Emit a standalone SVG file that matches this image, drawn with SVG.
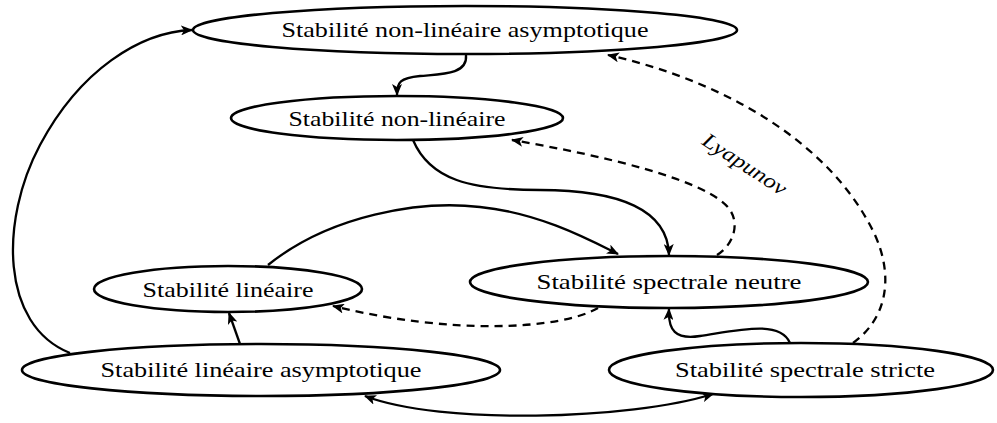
<svg xmlns="http://www.w3.org/2000/svg" width="997" height="423" viewBox="0 0 997 423">
<style>
.node ellipse{fill:#fff;stroke:#000;stroke-width:2.6}
.node text{font-family:'Liberation Serif','Times New Roman',serif;font-size:21px;text-anchor:middle;fill:#000}
.e{fill:none;stroke:#000;stroke-width:2.3}
.d{stroke-dasharray:8 6}
.lbl{font-family:'Liberation Serif','Times New Roman',serif;font-style:italic;font-size:21px;fill:#000;text-anchor:middle}
</style>
<defs>
<marker id="ah" markerWidth="12" markerHeight="10" refX="11" refY="5" orient="auto" markerUnits="userSpaceOnUse">
<path d="M0,0 L12,5 L0,10 L3,5 Z" fill="#000"/>
</marker>
<marker id="as" markerWidth="12" markerHeight="10" refX="1" refY="5" orient="auto" markerUnits="userSpaceOnUse">
<path d="M12,0 L0,5 L12,10 L9,5 Z" fill="#000"/>
</marker>
</defs>
<g id="connectors">
<path class="e" d="M70 353 C0 325, 0 220, 40 145 C80 70, 140 32, 192 30" marker-end="url(#ah)"/>
<path class="e" d="M466 55 C468 75, 440 74, 420 76 C400 78, 397 82, 397 95" marker-end="url(#ah)"/>
<path class="e" d="M413 140 C430 180, 470 190, 540 190 C620 190, 668 210, 669 255" marker-end="url(#ah)"/>
<path class="e" d="M268 265 C330 215, 420 200, 480 207 C540 213, 590 240, 618 254" marker-end="url(#ah)"/>
<path class="e d" d="M717 255 C733 245, 740 225, 730 210 C710 180, 600 155, 512 140" marker-end="url(#ah)"/>
<path class="e d" d="M853 343 C885 320, 895 280, 875 235 C830 140, 720 80, 608 55" marker-end="url(#ah)"/>
<path class="e d" d="M598 308 C560 330, 450 335, 333 306" marker-end="url(#ah)"/>
<path class="e" d="M790 343 C780 320, 740 330, 700 336 C675 340, 668 330, 669 309" marker-end="url(#ah)"/>
<path class="e" d="M240 344 L229 313" marker-end="url(#ah)"/>
<path class="e" d="M365 396 C440 425, 630 420, 713 394" marker-start="url(#as)" marker-end="url(#ah)"/>
<text class="lbl" transform="translate(741 170) rotate(33)" textLength="96" lengthAdjust="spacingAndGlyphs">Lyapunov</text>
</g>
<g id="n1" class="node"><ellipse cx="465" cy="30" rx="272" ry="24"/><text x="465" y="37" textLength="367" lengthAdjust="spacingAndGlyphs">Stabilité non-linéaire asymptotique</text></g>
<g id="n2" class="node"><ellipse cx="397" cy="118" rx="166" ry="22"/><text x="397" y="126" textLength="217" lengthAdjust="spacingAndGlyphs">Stabilité non-linéaire</text></g>
<g id="n3" class="node"><ellipse cx="228" cy="289" rx="134" ry="23"/><text x="228" y="297" textLength="171" lengthAdjust="spacingAndGlyphs">Stabilité linéaire</text></g>
<g id="n4" class="node"><ellipse cx="261" cy="370" rx="239" ry="26"/><text x="261" y="377" textLength="321" lengthAdjust="spacingAndGlyphs">Stabilité linéaire asymptotique</text></g>
<g id="n5" class="node"><ellipse cx="669" cy="282" rx="199" ry="26"/><text x="669" y="289" textLength="265" lengthAdjust="spacingAndGlyphs">Stabilité spectrale neutre</text></g>
<g id="n6" class="node"><ellipse cx="801" cy="370" rx="192" ry="27"/><text x="805" y="377" textLength="260" lengthAdjust="spacingAndGlyphs">Stabilité spectrale stricte</text></g>
</svg>
